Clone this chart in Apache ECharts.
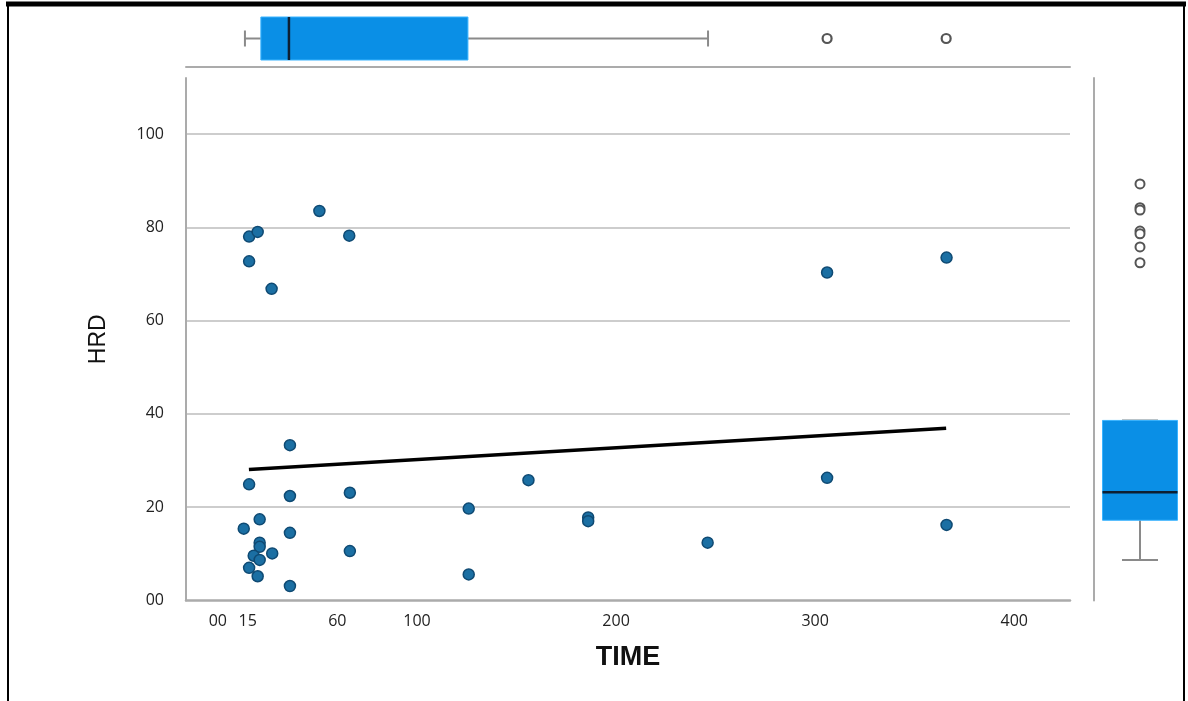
<!DOCTYPE html>
<html><head><meta charset="utf-8">
<script src="https://cdn.jsdelivr.net/npm/echarts@6/dist/echarts.min.js"></script>
<style>html,body{margin:0;padding:0;background:#fff}#c{width:1188px;height:701px}</style>
</head><body><div id="c"></div>
<script>
// ---- data ----
const timeVals = [51, 15.7, 20, 66, 15.7, 27, 306, 366,
  36.2, 15.7, 36.2, 66.3, 156, 126, 21, 13, 36.2, 21, 21, 66.3, 27.3, 18, 21, 15.7, 20, 36.2, 126, 186, 186, 246, 306, 366];
const hrdVals = [83.5, 78, 79, 78.2, 72.7, 66.8, 70.3, 73.5,
  33.3, 24.9, 22.4, 23.1, 25.8, 19.7, 17.4, 15.4, 14.5, 12.4, 11.5, 10.6, 10.1, 9.6, 8.7, 7.0, 5.2, 3.1, 5.6, 17.8, 17.0, 12.4, 26.3, 16.2];
const fitTime = [15.6, 365.8];
const fitHrd = [28.1, 36.9];
const xTickValues = [0, 15, 60, 100, 200, 300, 400];
const yTickValues = [0, 20, 40, 60, 80, 100];
const timeBox = [13.6, 21.6, 35.7, 125.6, 246.2];   // min, q1, median, q3, max
const timeOutliers = [306, 365.8];
const hrdBox = [8.7, 17.2, 23.2, 38.6, 38.6];
const hrdOutliers = [89.3, 84.2, 83.7, 79.2, 78.6, 75.8, 72.4];

const X_MIN = -16, X_MAX = 428, Y_MIN = 0, Y_MAX = 112;
const FONT = "'Open Sans', 'Liberation Sans', sans-serif";
const BOX_FILL = '#0a8fe6', BOX_EDGE = '#3ab4ff', WHISK = '#8a8a8a', MED = '#0d1f33';
const AXIS_GRAY = '#ababab';

const scatterData = timeVals.map((t, i) => [t, hrdVals[i]]);
const fitData = fitTime.map((t, i) => [t, fitHrd[i]]);

function hBox(params, api) {
  const p = [0,1,2,3,4].map(i => api.coord([api.value(i), 0]));
  const y = p[0][1], h = 21.5, c = 8;
  return { type: 'group', children: [
    { type: 'line', shape: {x1: p[0][0], y1: y, x2: p[1][0], y2: y}, style: {stroke: WHISK, lineWidth: 2} },
    { type: 'line', shape: {x1: p[3][0], y1: y, x2: p[4][0], y2: y}, style: {stroke: WHISK, lineWidth: 2} },
    { type: 'line', shape: {x1: p[0][0], y1: y - c, x2: p[0][0], y2: y + c}, style: {stroke: WHISK, lineWidth: 2} },
    { type: 'line', shape: {x1: p[4][0], y1: y - c, x2: p[4][0], y2: y + c}, style: {stroke: WHISK, lineWidth: 2} },
    { type: 'rect', shape: {x: p[1][0], y: y - h, width: p[3][0] - p[1][0], height: 2 * h}, style: {fill: BOX_FILL, stroke: BOX_EDGE, lineWidth: 1} },
    { type: 'line', shape: {x1: p[2][0], y1: y - h, x2: p[2][0], y2: y + h}, style: {stroke: MED, lineWidth: 2.5} }
  ]};
}
function vBox(params, api) {
  const p = [0,1,2,3,4].map(i => api.coord([0, api.value(i)]));
  const x = p[0][0], w = 37.5, c = 18;
  return { type: 'group', children: [
    { type: 'line', shape: {x1: x, y1: p[0][1], x2: x, y2: p[1][1]}, style: {stroke: WHISK, lineWidth: 2} },
    { type: 'line', shape: {x1: x, y1: p[3][1], x2: x, y2: p[4][1]}, style: {stroke: WHISK, lineWidth: 2} },
    { type: 'line', shape: {x1: x - c, y1: p[0][1], x2: x + c, y2: p[0][1]}, style: {stroke: WHISK, lineWidth: 2} },
    { type: 'line', shape: {x1: x - c, y1: p[4][1], x2: x + c, y2: p[4][1]}, style: {stroke: WHISK, lineWidth: 2} },
    { type: 'rect', shape: {x: x - w, y: p[3][1], width: 2 * w, height: p[1][1] - p[3][1]}, style: {fill: BOX_FILL, stroke: BOX_EDGE, lineWidth: 1} },
    { type: 'line', shape: {x1: x - w, y1: p[2][1], x2: x + w, y2: p[2][1]}, style: {stroke: MED, lineWidth: 2.5} }
  ]};
}

const chart = echarts.init(document.getElementById('c'), null, {renderer: 'canvas'});
chart.setOption({
  animation: false,
  backgroundColor: '#fff',
  grid: [
    { left: 186, right: 118, top: 78, bottom: 100.5 },
    { left: 186, right: 118, top: 10, height: 57 },
    { left: 1094, width: 92, top: 78, bottom: 100.5 }
  ],
  xAxis: [
    { gridIndex: 0, type: 'value', min: X_MIN, max: X_MAX,
      name: 'TIME', nameLocation: 'middle', nameGap: 44,
      nameTextStyle: { fontFamily: "'Liberation Sans', Arial, sans-serif", fontWeight: 'bold', fontSize: 27, color: '#111' },
      axisLine: { show: true, onZero: false, lineStyle: { color: AXIS_GRAY, width: 2.5 } },
      axisTick: { show: false },
      splitLine: { show: false },
      axisLabel: { customValues: xTickValues, margin: 13, fontSize: 16, color: '#222', fontFamily: FONT,
        formatter: v => v === 0 ? '00' : String(v) } },
    { gridIndex: 1, type: 'value', min: X_MIN, max: X_MAX,
      axisLine: { show: true, onZero: false, lineStyle: { color: AXIS_GRAY, width: 2 } },
      axisTick: { show: false }, axisLabel: { show: false }, splitLine: { show: false } },
    { gridIndex: 2, type: 'category', data: ['HRD'], show: false }
  ],
  yAxis: [
    { gridIndex: 0, type: 'value', min: Y_MIN, max: Y_MAX, interval: 20,
      name: 'HRD', nameLocation: 'middle', nameGap: 76, nameRotate: 90,
      nameTextStyle: { fontFamily: "'Liberation Sans', Arial, sans-serif", fontSize: 23, color: '#111' },
      axisLine: { show: true, onZero: false, lineStyle: { color: AXIS_GRAY, width: 2 } },
      axisTick: { show: false },
      splitLine: { show: true, showMinLine: false, showMaxLine: false, lineStyle: { color: '#cdcdcd', width: 2 } },
      axisLabel: { customValues: yTickValues, margin: 22, fontSize: 16, color: '#222', fontFamily: FONT,
        formatter: v => v === 0 ? '00' : String(v) } },
    { gridIndex: 1, type: 'category', data: ['TIME'], show: false },
    { gridIndex: 2, type: 'value', min: Y_MIN, max: Y_MAX,
      axisLine: { show: true, onZero: false, lineStyle: { color: AXIS_GRAY, width: 2 } },
      axisTick: { show: false }, axisLabel: { show: false }, splitLine: { show: false } }
  ],
  series: [
    { type: 'scatter', xAxisIndex: 0, yAxisIndex: 0, data: scatterData, symbolSize: 11,
      itemStyle: { color: '#1b6fa3', borderColor: '#0f4a73', borderWidth: 1.5, opacity: 1 }, z: 3 },
    { type: 'line', xAxisIndex: 0, yAxisIndex: 0, data: fitData, symbol: 'none',
      lineStyle: { color: '#000', width: 3.5 }, z: 4 },
    { type: 'custom', xAxisIndex: 1, yAxisIndex: 1, renderItem: hBox, data: [timeBox],
      encode: { x: [0,1,2,3,4], y: -1 } },
    { type: 'scatter', xAxisIndex: 1, yAxisIndex: 1, data: timeOutliers.map(v => [v, 0]), symbolSize: 9,
      itemStyle: { color: '#fff', borderColor: '#555', borderWidth: 2.2, opacity: 1 } },
    { type: 'custom', xAxisIndex: 2, yAxisIndex: 2, renderItem: vBox, data: [hrdBox],
      encode: { y: [0,1,2,3,4], x: -1 } },
    { type: 'scatter', xAxisIndex: 2, yAxisIndex: 2, data: hrdOutliers.map(v => [0, v]), symbolSize: 9,
      itemStyle: { color: '#fff', borderColor: '#555', borderWidth: 2, opacity: 1 } }
  ],
  graphic: [
    { type: 'line', shape: { x1: 6, y1: 4, x2: 1186, y2: 4 }, style: { stroke: '#000', lineWidth: 5 }, z: 100 },
    { type: 'line', shape: { x1: 8, y1: 2, x2: 8, y2: 701 }, style: { stroke: '#000', lineWidth: 2 }, z: 100 },
    { type: 'line', shape: { x1: 1184, y1: 2, x2: 1184, y2: 701 }, style: { stroke: '#000', lineWidth: 2 }, z: 100 }
  ]
});
</script></body></html>
